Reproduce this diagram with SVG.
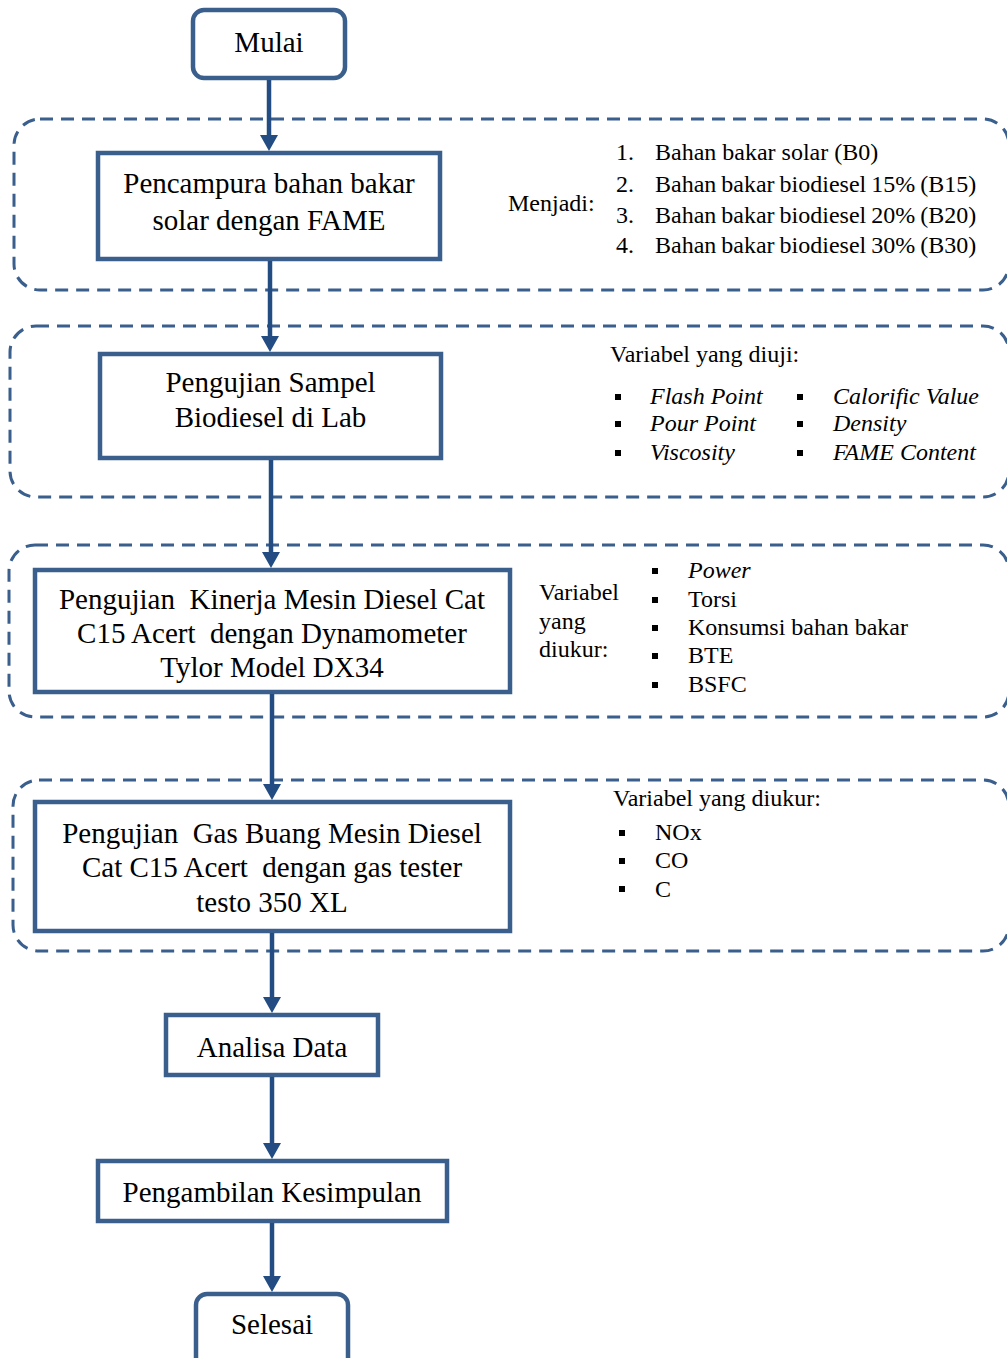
<svg xmlns="http://www.w3.org/2000/svg" width="1007" height="1358" viewBox="0 0 1007 1358">
<style>
.bg{fill:#ffffff}
.node{fill:#ffffff;stroke:#3A5F8D;stroke-width:4.5}
.grp{fill:none;stroke:#3A5F8D;stroke-width:3;stroke-dasharray:13 8}
.conn{stroke:#234C82;stroke-width:4.5;fill:none}
.t{font-family:"Liberation Serif","Times New Roman",serif;fill:#000000}
.nt{font-size:29px;text-anchor:middle}
.st{font-size:24px}
.it{font-style:italic}
.bul{fill:#000000}
</style>
<defs>
<marker id="arrow" viewBox="0 0 16 18" refX="6" refY="9" markerWidth="16" markerHeight="18" markerUnits="userSpaceOnUse" orient="auto">
<path d="M0,0 L16,9 L0,18 z" fill="#234C82"/>
</marker>
</defs>
<rect class="bg" x="0" y="0" width="1007" height="1358"/>

<g id="groups">
<rect id="grp1" class="grp" x="14" y="119" width="995" height="171" rx="26"/>
<rect id="grp2" class="grp" x="10" y="326" width="999" height="171" rx="26"/>
<rect id="grp3" class="grp" x="9" y="545" width="1000" height="172" rx="26"/>
<rect id="grp4" class="grp" x="13" y="780" width="996" height="171" rx="26"/>
</g>

<g id="mulai">
<rect class="node" x="193" y="10" width="152" height="68" rx="11"/>
<text class="t nt" x="269" y="52">Mulai</text>
</g>

<g id="pencampura">
<rect class="node" x="98" y="153" width="342" height="106"/>
<text class="t nt" x="269" y="193">Pencampura bahan bakar</text>
<text class="t nt" x="269" y="230">solar dengan FAME</text>
</g>

<g id="menjadi">
<text class="t st" x="508" y="211">Menjadi:</text>
<text class="t st" x="616" y="160">1.</text>
<text class="t st" x="655" y="160">Bahan bakar solar (B0)</text>
<text class="t st" x="616" y="192">2.</text>
<text class="t st" x="655" y="192" word-spacing="-1">Bahan bakar biodiesel 15% (B15)</text>
<text class="t st" x="616" y="223">3.</text>
<text class="t st" x="655" y="223" word-spacing="-1">Bahan bakar biodiesel 20% (B20)</text>
<text class="t st" x="616" y="253">4.</text>
<text class="t st" x="655" y="253" word-spacing="-1">Bahan bakar biodiesel 30% (B30)</text>
</g>

<g id="sampel">
<rect class="node" x="100" y="354" width="341" height="104"/>
<text class="t nt" x="270.5" y="392">Pengujian Sampel</text>
<text class="t nt" x="270.5" y="427">Biodiesel di Lab</text>
</g>

<g id="var-diuji">
<text class="t st" x="610" y="362">Variabel yang diuji:</text>
<rect class="bul" x="615" y="394" width="6" height="6"/>
<rect class="bul" x="615" y="421" width="6" height="6"/>
<rect class="bul" x="615" y="450" width="6" height="6"/>
<text class="t st it" x="650" y="404">Flash Point</text>
<text class="t st it" x="650" y="431">Pour Point</text>
<text class="t st it" x="650" y="460">Viscosity</text>
<rect class="bul" x="797" y="394" width="6" height="6"/>
<rect class="bul" x="797" y="421" width="6" height="6"/>
<rect class="bul" x="797" y="450" width="6" height="6"/>
<text class="t st it" x="833" y="404">Calorific Value</text>
<text class="t st it" x="833" y="431">Density</text>
<text class="t st it" x="833" y="460">FAME Content</text>
</g>

<g id="kinerja">
<rect class="node" x="35" y="570" width="475" height="122"/>
<text class="t nt" x="272" y="609" xml:space="preserve">Pengujian  Kinerja Mesin Diesel Cat</text>
<text class="t nt" x="272" y="643" xml:space="preserve">C15 Acert  dengan Dynamometer</text>
<text class="t nt" x="272" y="677">Tylor Model DX34</text>
</g>

<g id="var-kinerja">
<text class="t st" x="539" y="600">Variabel</text>
<text class="t st" x="539" y="629">yang</text>
<text class="t st" x="539" y="657">diukur:</text>
<rect class="bul" x="652" y="568" width="6" height="6"/>
<rect class="bul" x="652" y="597" width="6" height="6"/>
<rect class="bul" x="652" y="625" width="6" height="6"/>
<rect class="bul" x="652" y="653" width="6" height="6"/>
<rect class="bul" x="652" y="682" width="6" height="6"/>
<text class="t st it" x="688" y="578">Power</text>
<text class="t st" x="688" y="607">Torsi</text>
<text class="t st" x="688" y="635">Konsumsi bahan bakar</text>
<text class="t st" x="688" y="663">BTE</text>
<text class="t st" x="688" y="692">BSFC</text>
</g>

<g id="gasbuang">
<rect class="node" x="35" y="802" width="475" height="129"/>
<text class="t nt" x="272" y="843" xml:space="preserve">Pengujian  Gas Buang Mesin Diesel</text>
<text class="t nt" x="272" y="877" xml:space="preserve">Cat C15 Acert  dengan gas tester</text>
<text class="t nt" x="272" y="912">testo 350 XL</text>
</g>

<g id="var-gas">
<text class="t st" x="613" y="806">Variabel yang diukur:</text>
<rect class="bul" x="619" y="830" width="6" height="6"/>
<rect class="bul" x="619" y="858" width="6" height="6"/>
<rect class="bul" x="619" y="886" width="6" height="6"/>
<text class="t st" x="655" y="840">NOx</text>
<text class="t st" x="655" y="868">CO</text>
<text class="t st" x="655" y="897">C</text>
</g>

<g id="analisa">
<rect class="node" x="166" y="1015" width="212" height="60"/>
<text class="t nt" x="272" y="1057">Analisa Data</text>
</g>

<g id="kesimpulan">
<rect class="node" x="98" y="1161" width="349" height="60"/>
<text class="t nt" x="272" y="1202">Pengambilan Kesimpulan</text>
</g>

<g id="selesai">
<rect class="node" x="196" y="1294" width="152" height="80" rx="11"/>
<text class="t nt" x="272" y="1334">Selesai</text>
</g>

<g id="connectors">
<line class="conn" x1="269" y1="80" x2="269" y2="141" marker-end="url(#arrow)"/>
<line class="conn" x1="270" y1="261" x2="270" y2="342" marker-end="url(#arrow)"/>
<line class="conn" x1="271" y1="460" x2="271" y2="558" marker-end="url(#arrow)"/>
<line class="conn" x1="272" y1="694" x2="272" y2="790" marker-end="url(#arrow)"/>
<line class="conn" x1="272" y1="933" x2="272" y2="1003" marker-end="url(#arrow)"/>
<line class="conn" x1="272" y1="1077" x2="272" y2="1149" marker-end="url(#arrow)"/>
<line class="conn" x1="272" y1="1223" x2="272" y2="1282" marker-end="url(#arrow)"/>
</g>
</svg>
